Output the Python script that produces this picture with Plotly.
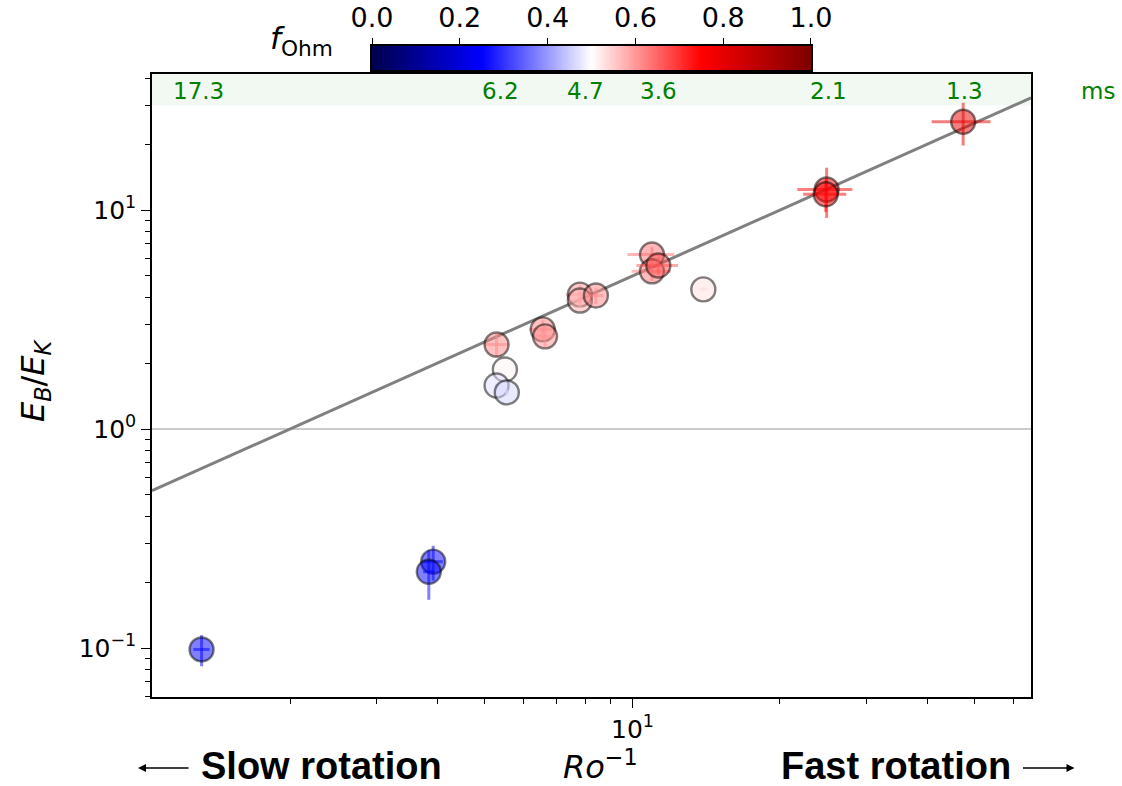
import numpy as np
import plotly.graph_objects as go

# Simulation runs: inverse Rossby number, magnetic-to-kinetic energy ratio, ohmic fraction
ro_inv = [1.32, 3.92, 3.84, 5.28, 5.49, 5.28, 5.54, 6.56, 6.63, 7.81, 7.81, 8.42,
          10.96, 10.96, 11.29, 13.95, 24.9, 24.8, 47.3]
eb_ek = [0.0985, 0.248, 0.223, 2.43, 1.87, 1.58, 1.47, 2.85, 2.65, 4.11, 3.86, 4.07,
         6.26, 5.25, 5.58, 4.34, 12.4, 11.8, 25.3]
f_ohm = [0.25, 0.25, 0.25, 0.62, 0.51, 0.47, 0.46, 0.62, 0.61, 0.60, 0.58, 0.62,
         0.64, 0.63, 0.67, 0.53, 0.76, 0.75, 0.80]
ro_inv_err = [0.05, 0.18, 0.10, 0.30, 0.05, 0.05, 0.05, 0.40, 0.30, 0.50, 0.30, 0.30,
              1.20, 1.00, 1.10, 0.30, 3.20, 2.50, 6.50]
eb_ek_err = [0.016, 0.045, 0.057, 0.30, 0.05, 0.05, 0.05, 0.30, 0.30, 0.45, 0.30, 0.35,
             0.50, 0.50, 0.50, 0.10, 3.20, 2.00, 5.60]

# Rotation periods (ms) marked along the top band, at their Ro^-1
period_ms = ["17.3", "6.2", "4.7", "3.6", "2.1", "1.3"]
period_ro_inv = [1.30, 5.39, 8.0, 11.3, 25.1, 47.7]

# Power-law fit E_B/E_K = A * (Ro^-1)^n
fit_amp = 0.5
fit_slope = 1.0

x_log_range = [0.0194, 1.8133]
y_log_range = [-1.2237, 1.621]

# matplotlib "seismic" colormap anchors
SEISMIC = [(0.0, (0, 0, 77)), (0.25, (0, 0, 255)), (0.5, (255, 255, 255)),
           (0.75, (255, 0, 0)), (1.0, (128, 0, 0))]


def seismic(v):
    for (p0, c0), (p1, c1) in zip(SEISMIC[:-1], SEISMIC[1:]):
        if v <= p1:
            t = (v - p0) / (p1 - p0)
            return tuple(int(round(a + (b - a) * t)) for a, b in zip(c0, c1))
    return SEISMIC[-1][1]


def rgba(c, a):
    return f"rgba({c[0]},{c[1]},{c[2]},{a})"


seismic_scale = [[p, f"rgb{c}"] for p, c in SEISMIC]

fig = go.Figure()

# Fit line across the full x range
fx = 10 ** np.array(x_log_range)
fig.add_trace(go.Scatter(x=fx, y=fit_amp * fx ** fit_slope, mode="lines",
                         line=dict(color="rgb(128,128,128)", width=3),
                         showlegend=False, hoverinfo="skip"))

# One trace per run so each error bar takes the point's colour
for x, y, f, xe, ye in zip(ro_inv, eb_ek, f_ohm, ro_inv_err, eb_ek_err):
    c = seismic(f)
    fig.add_trace(go.Scatter(
        x=[x], y=[y], mode="markers", showlegend=False,
        marker=dict(size=24, color=rgba(c, 0.5),
                    line=dict(color="rgba(0,0,0,0.5)", width=2.4)),
        error_x=dict(type="data", array=[xe], color=rgba(c, 0.5), thickness=3, width=0),
        error_y=dict(type="data", array=[ye], color=rgba(c, 0.5), thickness=3, width=0),
    ))

# Colour bar for f_Ohm drawn as a gradient strip on its own axes
grad = np.linspace(0, 1, 256)
fig.add_trace(go.Heatmap(z=[grad], x=(np.arange(256) + 0.5) / 256, y=[0],
                         xaxis="x2", yaxis="y2", colorscale=seismic_scale,
                         zmin=0, zmax=1, showscale=False, hoverinfo="skip"))

tick_font = dict(family="DejaVu Sans", size=25, color="black")

fig.update_layout(
    width=1122, height=786,
    margin=dict(l=152, r=91, t=10, b=89, autoexpand=False),
    plot_bgcolor="white", paper_bgcolor="white",
    xaxis=dict(type="log", range=x_log_range, domain=[0, 1], anchor="y",
               automargin=False,
               showgrid=False, zeroline=False, showline=True, mirror=True,
               linecolor="black", linewidth=1.5,
               ticks="outside", ticklen=9, tickwidth=1.3, tickcolor="black",
               tickmode="array", tickvals=[10], ticktext=["10<sup>1</sup>"],
               tickfont=tick_font,
               minor=dict(ticks="outside", ticklen=5, tickwidth=1, tickcolor="black",
                          tickmode="array",
                          tickvals=[2, 3, 4, 5, 6, 7, 8, 9, 20, 30, 40, 50, 60],
                          showgrid=False)),
    yaxis=dict(type="log", range=y_log_range, domain=[0, 0.9068], anchor="x",
               automargin=False,
               showgrid=False, zeroline=False, showline=True, mirror=True,
               linecolor="black", linewidth=1.5,
               ticks="outside", ticklen=9, tickwidth=1.3, tickcolor="black",
               tickmode="array", tickvals=[0.1, 1, 10],
               ticktext=["10<sup>\u22121</sup>", "10<sup>0</sup>", "10<sup>1</sup>"],
               tickfont=tick_font,
               minor=dict(ticks="outside", ticklen=5, tickwidth=1, tickcolor="black",
                          tickmode="array",
                          tickvals=[0.06, 0.07, 0.08, 0.09, 0.2, 0.3, 0.4, 0.5, 0.6,
                                    0.7, 0.8, 0.9, 2, 3, 4, 5, 6, 7, 8, 9, 20, 30, 40],
                          showgrid=False)),
    xaxis2=dict(domain=[0.2503, 0.7497], anchor="y2", range=[0, 1], side="top",
                automargin=False,
                showgrid=False, zeroline=False, showline=True, mirror=True,
                linecolor="black", linewidth=1.5,
                ticks="outside", ticklen=6, tickwidth=1.3, tickcolor="black",
                tickmode="array", tickvals=[0, 0.2, 0.4, 0.6, 0.8, 1.0],
                ticktext=["0.0", "0.2", "0.4", "0.6", "0.8", "1.0"],
                tickfont=dict(family="DejaVu Sans", size=27, color="black")),
    yaxis2=dict(domain=[0.9127, 0.9476], anchor="x2", range=[-0.5, 0.5],
                automargin=False,
                showgrid=False, zeroline=False, showline=True, mirror=True,
                linecolor="black", linewidth=1.5, showticklabels=False, ticks=""),
)

# Shaded band holding the rotation periods, and the E_B = E_K reference line
fig.add_shape(type="rect", xref="x domain", x0=0, x1=1, yref="y",
              y0=30, y1=10 ** y_log_range[1], fillcolor="rgba(0,128,0,0.05)",
              line=dict(width=0), layer="below")
fig.add_shape(type="line", xref="x domain", x0=0, x1=1, yref="y", y0=1, y1=1,
              line=dict(color="rgb(150,150,150)", width=1.2), layer="below")

green = dict(family="DejaVu Sans", size=23, color="green")
for label, xr in zip(period_ms, period_ro_inv):
    fig.add_annotation(x=np.log10(xr), xref="x", y=0.972, yref="y domain",
                       text=label, showarrow=False, font=green,
                       xanchor="center", yanchor="middle")
fig.add_annotation(x=1.076, xref="x domain", y=0.972, yref="y domain", text="ms",
                   showarrow=False, font=green, xanchor="center", yanchor="middle")

# Colour bar label
fig.add_annotation(x=0.2082, xref="paper", y=0.9563, yref="paper",
                   text="<i>f</i><sub>Ohm</sub>", showarrow=False,
                   font=dict(family="DejaVu Sans", size=31, color="black"),
                   xanchor="right", yanchor="middle")

# Axis titles
fig.add_annotation(x=-0.1331, xref="paper", y=0.4614, yref="paper",
                   text="<i>E<sub>B</sub></i>/<i>E<sub>K</sub></i>", textangle=-90,
                   showarrow=False, font=dict(family="DejaVu Sans", size=32, color="black"),
                   xanchor="center", yanchor="middle")
fig.add_annotation(x=0.5097, xref="paper", y=-0.099, yref="paper",
                   text="<i>Ro</i><sup>\u22121</sup>", showarrow=False,
                   font=dict(family="DejaVu Sans", size=32, color="black"),
                   xanchor="center", yanchor="middle")

# Rotation direction hints
bold = dict(family="Liberation Sans", size=38, color="black")
fig.add_annotation(x=0.1923, xref="paper", y=-0.1005, yref="paper",
                   text="<b>Slow rotation</b>", showarrow=False, font=bold,
                   xanchor="center", yanchor="middle")
fig.add_annotation(x=0.8464, xref="paper", y=-0.1005, yref="paper",
                   text="<b>Fast rotation</b>", showarrow=False, font=bold,
                   xanchor="center", yanchor="middle")
fig.add_annotation(x=-0.0159, xref="paper", y=-0.1033, yref="paper", text="",
                   showarrow=True, ax=52, ay=0, arrowhead=2, arrowsize=1,
                   arrowwidth=1.6, arrowcolor="black")
fig.add_annotation(x=1.0495, xref="paper", y=-0.1033, yref="paper", text="",
                   showarrow=True, ax=-53, ay=0, arrowhead=2, arrowsize=1,
                   arrowwidth=1.6, arrowcolor="black")

fig.write_html("out.html")
